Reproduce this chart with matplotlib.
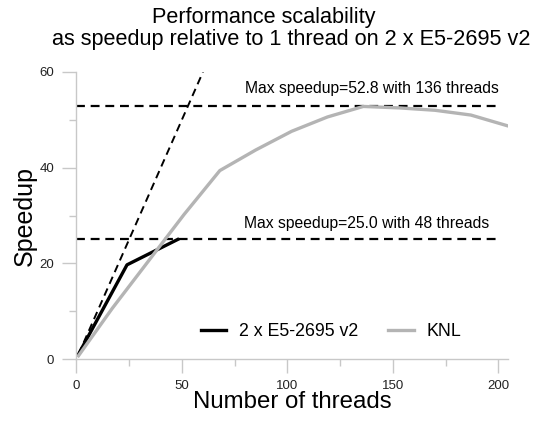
import matplotlib
matplotlib.use("Agg")
import matplotlib.pyplot as plt

plt.rcParams['font.family'] = ['Liberation Sans', 'DejaVu Sans']

# 2 x E5-2695 v2
xeon_threads = [1, 24, 48]
xeon_speedup = [1.0, 19.7, 25.0]

# KNL
knl_threads = [1, 17, 34, 51, 68, 85, 102, 119, 136, 153, 170, 187, 204]
knl_speedup = [0.7, 10.6, 20.4, 30.2, 39.4, 43.7, 47.6, 50.6, 52.8, 52.5, 52.0, 51.0, 48.8]

# ideal linear scaling
ideal_threads = [1, 60]
ideal_speedup = [1, 60]

max_knl = 52.8
max_knl_threads = 136
max_xeon = 25.0
max_xeon_threads = 48

x_ticks = [0, 50, 100, 150, 200]
y_ticks = [0, 20, 40, 60]

axis_gray = '#c8c8c8'
dash = (0, (4, 2.6))

fig = plt.figure(figsize=(5.34, 4.21), dpi=100)
ax = fig.add_axes([0.143, 0.147, 0.808, 0.682])

ax.plot(ideal_threads, ideal_speedup, color='black', lw=1.4, linestyle=dash)
ax.hlines([max_knl, max_xeon], 0, 200, colors='black', lw=1.6, linestyles=[dash, dash])
ax.plot(xeon_threads, xeon_speedup, color='black', lw=2.4, label='2 x E5-2695 v2')
ax.plot(knl_threads, knl_speedup, color='#b4b4b4', lw=2.4, label='KNL')

ax.text(140, 56.6, f'Max speedup={max_knl} with {max_knl_threads} threads',
        ha='center', va='center', fontsize=11.3)
ax.text(137.5, 28.4, f'Max speedup={max_xeon} with {max_xeon_threads} threads',
        ha='center', va='center', fontsize=11.3)

ax.set_xlim(0, 204.5)
ax.set_ylim(0, 60)
ax.set_xticks(x_ticks)
ax.set_xticks([25, 75, 125, 175], minor=True)
ax.set_yticks(y_ticks)
ax.set_yticks([10, 30, 50], minor=True)

for s in ['top', 'right']:
    ax.spines[s].set_visible(False)
for s in ['left', 'bottom']:
    ax.spines[s].set_color(axis_gray)
    ax.spines[s].set_linewidth(1.0)

ax.tick_params(which='major', length=10, width=1.0, color=axis_gray,
               labelsize=9.5, labelcolor='#222222', pad=6)
ax.tick_params(which='minor', length=5, width=1.0, color=axis_gray)
ax.tick_params(axis='x', which='major', pad=5)

ax.set_xlabel('Number of threads', fontsize=17.3, labelpad=-1)
ax.set_ylabel('Speedup', fontsize=18, labelpad=2)

leg = ax.legend(loc='center', ncol=2, frameon=False, fontsize=12.8,
                handlelength=1.46, handletextpad=0.73, columnspacing=1.63,
                bbox_to_anchor=(0.59, 0.097))

fig.text(0.494, 0.958, 'Performance scalability', ha='center', va='center', fontsize=15.6)
fig.text(0.545, 0.905, 'as speedup relative to 1 thread on 2 x E5-2695 v2',
         ha='center', va='center', fontsize=15.6)

fig.savefig('out.png', dpi=100)
